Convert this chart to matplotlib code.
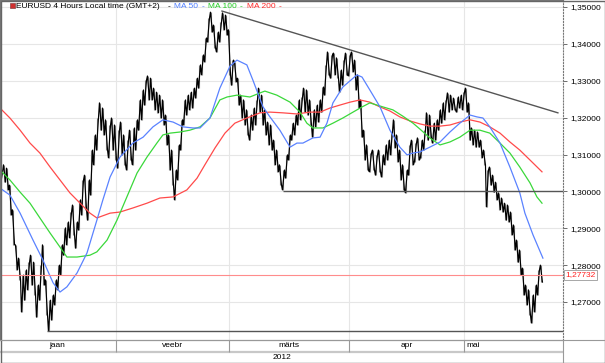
import matplotlib
matplotlib.use("Agg")
import matplotlib.pyplot as plt
from matplotlib.patches import Rectangle
import numpy as np

plt.rcParams['font.family'] = ['Liberation Sans', 'DejaVu Sans']

# price bars (high / low), one bar per plotted slot
highs = [1.3053, 1.3072, 1.3063, 1.3017, 1.2950, 1.2855, 1.2819, 1.2773, 1.2787, 1.2808,
         1.2827, 1.2808, 1.2746, 1.2800, 1.2855, 1.2760, 1.2705, 1.2719, 1.2760, 1.2800,
         1.2855, 1.2901, 1.2917, 1.2944, 1.2963, 1.2917, 1.2977, 1.3031, 1.3044, 1.3031,
         1.3112, 1.3153, 1.3199, 1.3240, 1.3226, 1.3194, 1.3180, 1.3199, 1.3180, 1.3166,
         1.3188, 1.3153, 1.3139, 1.3166, 1.3172, 1.3194, 1.3248, 1.3275, 1.3302, 1.3313,
         1.3307, 1.3280, 1.3269, 1.3261, 1.3248, 1.3207, 1.3153, 1.3112, 1.3058, 1.3126,
         1.3194, 1.3248, 1.3261, 1.3269, 1.3280, 1.3307, 1.3343, 1.3370, 1.3416, 1.3470,
         1.3486, 1.3451, 1.3432, 1.3459, 1.3484, 1.3478, 1.3438, 1.3356, 1.3351, 1.3307,
         1.3261, 1.3248, 1.3221, 1.3207, 1.3226, 1.3248, 1.3280, 1.3261, 1.3221, 1.3188,
         1.3180, 1.3139, 1.3112, 1.3072, 1.3058, 1.3099, 1.3153, 1.3185, 1.3207, 1.3248,
         1.3256, 1.3280, 1.3275, 1.3248, 1.3221, 1.3234, 1.3248, 1.3283, 1.3343, 1.3378,
         1.3370, 1.3375, 1.3362, 1.3329, 1.3356, 1.3375, 1.3370, 1.3378, 1.3356, 1.3316,
         1.3248, 1.3166, 1.3126, 1.3104, 1.3112, 1.3099, 1.3112, 1.3099, 1.3126, 1.3139,
         1.3161, 1.3194, 1.3153, 1.3112, 1.3072, 1.3058, 1.3126, 1.3139, 1.3131, 1.3145,
         1.3139, 1.3166, 1.3213, 1.3207, 1.3185, 1.3194, 1.3221, 1.3240, 1.3248, 1.3267,
         1.3261, 1.3253, 1.3256, 1.3261, 1.3269, 1.3280, 1.3240, 1.3172, 1.3166, 1.3161,
         1.3139, 1.3112, 1.3058, 1.3066, 1.3044, 1.3025, 1.2996, 1.2982, 1.2968, 1.2963,
         1.2944, 1.2909, 1.2868, 1.2841, 1.2792, 1.2746, 1.2733, 1.2719, 1.2746, 1.2787,
         1.2800]
lows = [1.3017, 1.3025, 1.3004, 1.2936, 1.2855, 1.2787, 1.2760, 1.2673, 1.2705, 1.2733,
        1.2746, 1.2719, 1.2659, 1.2705, 1.2746, 1.2665, 1.2621, 1.2651, 1.2692, 1.2733,
        1.2773, 1.2827, 1.2855, 1.2874, 1.2882, 1.2846, 1.2895, 1.2936, 1.2950, 1.2922,
        1.2990, 1.3072, 1.3112, 1.3166, 1.3153, 1.3112, 1.3091, 1.3112, 1.3085, 1.3063,
        1.3099, 1.3072, 1.3058, 1.3085, 1.3072, 1.3112, 1.3166, 1.3194, 1.3234, 1.3248,
        1.3248, 1.3221, 1.3213, 1.3199, 1.3180, 1.3126, 1.3058, 1.3017, 1.2977, 1.3031,
        1.3112, 1.3180, 1.3207, 1.3221, 1.3226, 1.3253, 1.3280, 1.3316, 1.3351, 1.3405,
        1.3432, 1.3389, 1.3378, 1.3405, 1.3438, 1.3424, 1.3316, 1.3288, 1.3297, 1.3234,
        1.3199, 1.3180, 1.3153, 1.3139, 1.3166, 1.3180, 1.3215, 1.3180, 1.3153, 1.3126,
        1.3112, 1.3072, 1.3053, 1.3017, 1.3004, 1.3036, 1.3085, 1.3139, 1.3153, 1.3180,
        1.3194, 1.3215, 1.3207, 1.3180, 1.3147, 1.3175, 1.3188, 1.3215, 1.3261, 1.3316,
        1.3307, 1.3316, 1.3307, 1.3269, 1.3288, 1.3316, 1.3313, 1.3324, 1.3275, 1.3226,
        1.3147, 1.3085, 1.3058, 1.3053, 1.3058, 1.3044, 1.3053, 1.3039, 1.3072, 1.3085,
        1.3099, 1.3118, 1.3080, 1.3031, 1.3004, 1.2996, 1.3044, 1.3072, 1.3080, 1.3085,
        1.3091, 1.3112, 1.3139, 1.3145, 1.3131, 1.3139, 1.3166, 1.3185, 1.3194, 1.3215,
        1.3221, 1.3221, 1.3215, 1.3226, 1.3221, 1.3215, 1.3139, 1.3126, 1.3120, 1.3120,
        1.3091, 1.3072, 1.2958, 1.3017, 1.2998, 1.2977, 1.2950, 1.2944, 1.2922, 1.2917,
        1.2882, 1.2841, 1.2808, 1.2773, 1.2719, 1.2692, 1.2665, 1.2643, 1.2673, 1.2719,
        1.2754]
last_price = 1.27732

# moving averages (position in bar slots, value)
ma50_pos = [0, 3.3, 6.7, 11.0, 14.3, 17.7, 20.0, 22.3, 25.7, 29.0, 31.0, 32.3, 34.3, 36.7,
            40.0, 44.3, 47.7, 51.0, 54.3, 57.7, 61.0, 64.3, 66.7, 70.0, 73.3, 76.7, 79.0,
            82.3, 84.3, 87.7, 90.0, 93.3, 96.7, 99.0, 101.0, 104.3, 106.7, 109.0, 111.0,
            114.3, 119.0, 120.7, 123.3, 126.7, 130.0, 133.3, 135.7, 137.7, 140.0, 143.3,
            146.7, 150.0, 153.3, 156.7, 159.0, 161.0, 163.3, 166.7, 170.0, 173.3, 175.0,
            177.7, 181.0]
ma50 = [1.3009, 1.2990, 1.2941, 1.2868, 1.2814, 1.2752, 1.2727, 1.2741, 1.2779, 1.2833,
        1.2887, 1.2922, 1.2977, 1.3039, 1.3093, 1.3131, 1.3147, 1.3175, 1.3194, 1.3188,
        1.3175, 1.3172, 1.3172, 1.3199, 1.3280, 1.3340, 1.3356, 1.3343, 1.3302, 1.3229,
        1.3202, 1.3166, 1.3120, 1.3131, 1.3131, 1.3145, 1.3147, 1.3185, 1.3240, 1.3283,
        1.3316, 1.3310, 1.3275, 1.3229, 1.3166, 1.3120, 1.3099, 1.3104, 1.3107, 1.3120,
        1.3134, 1.3161, 1.3185, 1.3207, 1.3202, 1.3199, 1.3175, 1.3131, 1.3066, 1.2996,
        1.2941, 1.2882, 1.2819]
ma100_pos = [0, 3.3, 6.7, 10.0, 13.3, 16.7, 20.0, 22.3, 25.7, 30.0, 32.3, 35.7, 39.0, 42.3,
             45.7, 49.0, 52.3, 54.3, 56.7, 60.0, 63.3, 66.7, 70.0, 73.3, 75.7, 79.0, 83.3,
             86.7, 88.3, 92.3, 96.7, 100.0, 102.3, 104.3, 107.7, 111.0, 114.3, 117.7, 120.7,
             123.3, 127.7, 131.0, 134.3, 137.7, 140.0, 143.3, 146.7, 150.0, 153.3, 156.7,
             160.0, 163.3, 166.7, 170.0, 173.3, 176.7, 179.0, 180.7]
ma100 = [1.3058, 1.3031, 1.2998, 1.2968, 1.2928, 1.2887, 1.2849, 1.2822, 1.2822, 1.2827,
         1.2836, 1.2868, 1.2922, 1.2985, 1.3050, 1.3093, 1.3131, 1.3153, 1.3158, 1.3161,
         1.3166, 1.3175, 1.3199, 1.3248, 1.3256, 1.3261, 1.3256, 1.3267, 1.3272, 1.3261,
         1.3242, 1.3215, 1.3185, 1.3172, 1.3172, 1.3185, 1.3199, 1.3215, 1.3229, 1.3240,
         1.3229, 1.3221, 1.3204, 1.3185, 1.3169, 1.3145, 1.3126, 1.3134, 1.3147, 1.3166,
         1.3166, 1.3158, 1.3131, 1.3104, 1.3066, 1.3023, 1.2985, 1.2968]
ma200_pos = [0, 3.3, 6.7, 10.0, 13.3, 16.7, 20.0, 23.3, 26.7, 30.0, 32.3, 36.7, 40.0, 44.3,
             49.0, 53.3, 57.7, 62.3, 65.7, 68.3, 71.7, 75.0, 78.3, 82.3, 86.7, 90.0, 94.3,
             99.0, 103.3, 106.7, 110.0, 113.3, 116.7, 120.0, 123.3, 126.7, 130.0, 133.3,
             136.7, 140.0, 143.3, 146.7, 150.0, 153.3, 156.7, 160.0, 163.3, 166.7, 170.0,
             173.3, 176.7, 180.7]
ma200 = [1.3226, 1.3199, 1.3166, 1.3131, 1.3104, 1.3066, 1.3031, 1.2996, 1.2968, 1.2941,
         1.2928, 1.2941, 1.2944, 1.2955, 1.2968, 1.2982, 1.2985, 1.3004, 1.3036, 1.3072,
         1.3118, 1.3158, 1.3185, 1.3199, 1.3213, 1.3215, 1.3213, 1.3210, 1.3215, 1.3215,
         1.3226, 1.3234, 1.3242, 1.3248, 1.3242, 1.3229, 1.3218, 1.3202, 1.3191, 1.3183,
         1.3177, 1.3177, 1.3180, 1.3188, 1.3194, 1.3188, 1.3175, 1.3158, 1.3134, 1.3112,
         1.3085, 1.3053]

# drawn lines: trend line and two supports
trend_pos = [74.0, 186.0]
trend_val = [1.3489, 1.3213]
support1 = 1.3000
support1_start = 94.3
support2 = 1.2621
support2_start = 15.7

months = ["jaan", "veebr", "märts", "apr", "mai"]
month_starts = [0, 38.7, 76.3, 116.3, 154.7]
month_label_pos = [19.2, 57.5, 96.3, 135.5, 157.8]
yticks = [1.27, 1.28, 1.29, 1.30, 1.31, 1.32, 1.33, 1.34, 1.35]
x_end = 187.7

W, H = 605, 363
fig = plt.figure(figsize=(W / 100, H / 100), dpi=100)
ax = fig.add_axes([0, 23 / H, 563 / W, 340 / H])

# bars: high-low sticks plus a jagged path running through each bar
x = np.arange(len(highs)) + 0.5
hi = np.array(highs)
lo = np.array(lows)
mid = (hi + lo) / 2
px, py = [], []
for i in range(len(x)):
    going_up = i + 1 < len(x) and mid[i + 1] > mid[i]
    a, b = (lo[i], hi[i]) if going_up else (hi[i], lo[i])
    px += [x[i] - 0.35, x[i] + 0.35]
    py += [a, b]
ax.vlines(x, lo, hi, color='#808080', lw=0.8)
ax.plot(px, py, color='black', lw=0.85)

ax.plot(ma200_pos, ma200, color='#ff4a4a', lw=0.9)
ax.plot(ma100_pos, ma100, color='#3ad83a', lw=0.9)
ax.plot(ma50_pos, ma50, color='#5a82ff', lw=0.9)

ax.plot(trend_pos, trend_val, color='#555555', lw=1)
ax.hlines(support1, support1_start, x_end, color='#555555', lw=1)
ax.hlines(support2, support2_start, x_end, color='#555555', lw=1)
ax.axhline(last_price, color='#ff8c8c', lw=0.8)

ax.set_xlim(0, x_end)
ax.set_ylim(1.2597, 1.3519)
ax.set_xticks(month_starts[1:])
ax.tick_params(axis='x', length=0, labelbottom=False)
ax.yaxis.tick_right()
ax.set_yticks(yticks)
ax.set_yticklabels([f"{v:.5f}".replace('.', ',') for v in yticks])
ax.tick_params(axis='y', labelsize=6, length=3, width=0.6, color='#555555', pad=2)
ax.grid(color='#e6e6e6', lw=0.8)
ax.set_axisbelow(True)
for s in ['left', 'top', 'bottom']:
    ax.spines[s].set_color('#777777')
    ax.spines[s].set_linewidth(0.8)
ax.spines['right'].set_linestyle(':')
ax.spines['right'].set_color('#777777')
ax.spines['right'].set_linewidth(0.8)

ax.text(1.004, last_price, f"{last_price:.5f}".replace('.', ','),
        transform=ax.get_yaxis_transform(), color='#ff2020', fontsize=6,
        va='center', ha='left',
        bbox=dict(boxstyle='square,pad=0.2', facecolor='white', edgecolor='#999999', lw=0.6))

# bottom time band
bax = fig.add_axes([0, 0, 563 / W, 23 / H])
bax.set_xlim(0, x_end)
bax.set_ylim(0, 23)
bax.axis('off')
bax.axhline(11.5, color='#c8c8c8', lw=1.6)
bax.vlines(month_starts[1:], 11.5, 23, color='#999999', lw=0.8)
for name, pos in zip(months, month_label_pos):
    bax.text(pos, 17.2, name, ha='center', va='center', fontsize=6)
bax.text(x_end / 2, 5.5, "2012", ha='center', va='center', fontsize=6)

# frame lines of the figure
fig.add_artist(plt.Line2D([0, 1], [23 / H, 23 / H], color='#999999', lw=0.8))
fig.add_artist(plt.Line2D([563 / W, 563 / W], [0, 23 / H], color='#999999', lw=0.8))
fig.add_artist(Rectangle((0.5 / W, 0.5 / H), 1 - 1 / W, 1 - 1 / H, fill=False,
                         edgecolor='#666666', lw=1, transform=fig.transFigure))

# header, pieces placed one after another
fig.add_artist(Rectangle((9.5 / W, 1 - 8 / H), 5.5 / W, 5.5 / H, facecolor='#d03030',
                         edgecolor='#884444', lw=0.5, transform=fig.transFigure))
header = [("EURUSD 4 Hours Local time (GMT+2)", 'black', 0),
          ("-", 'black', 8), ("MA 50", '#4f7fff', 4), ("-", '#4f7fff', 3),
          ("MA 100", '#22cc22', 4), ("-", '#22cc22', 3),
          ("MA 200", '#ff2a2a', 4), ("-", '#ff2a2a', 3)]
renderer = fig.canvas.get_renderer()
cur = 16
for txt, col, gap in header:
    cur += gap
    t = fig.text(cur / W, 1 - 7 / H, txt, color=col, fontsize=6.0, ha='left', va='center')
    cur = t.get_window_extent(renderer).x1

fig.savefig("out.png", dpi=100)
